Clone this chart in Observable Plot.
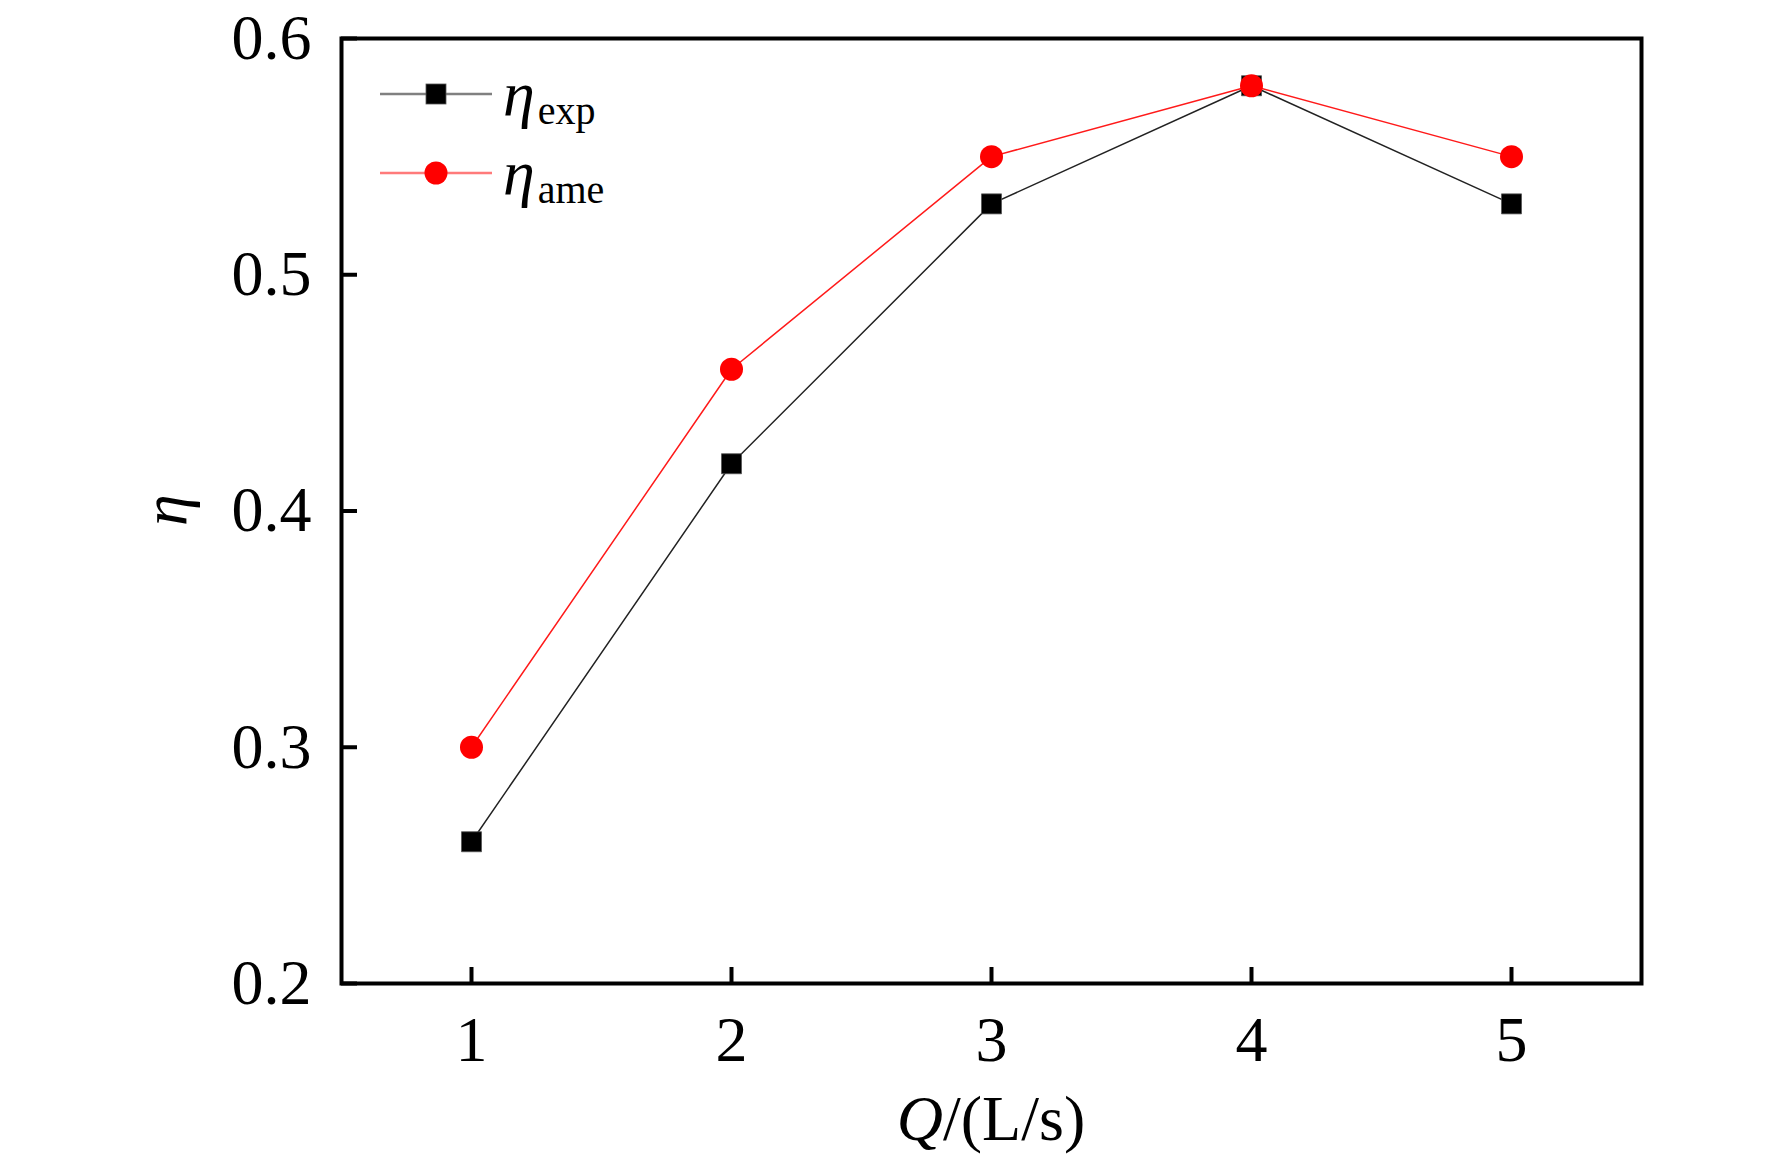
<!DOCTYPE html>
<html>
<head>
<meta charset="utf-8">
<script src="https://cdn.jsdelivr.net/npm/d3@7"></script>
<script src="https://cdn.jsdelivr.net/npm/@observablehq/plot@0.6"></script>
<style>
  html, body { margin: 0; padding: 0; background: #fff; overflow: hidden; }
  svg { display: block; }
</style>
</head>
<body>
<div id="chart"></div>
<script>
// ---- data ----
const Q = [1, 2, 3, 4, 5];
const etaExp = [0.26, 0.42, 0.53, 0.58, 0.53];
const etaAme = [0.30, 0.46, 0.55, 0.58, 0.55];
const xTicks = [1, 2, 3, 4, 5];
const yTicks = [0.2, 0.3, 0.4, 0.5, 0.6];
const seriesSymbol = ["η", "η"];
const seriesSub = ["exp", "ame"];
const xTitle = ["Q", "/(L/s)"];
const yTitle = "η";

const rows = Q.map((q, i) => ({q, exp: etaExp[i], ame: etaAme[i]}));

const FONT = "'Liberation Serif', 'Times New Roman', serif";

const chart = Plot.plot({
  width: 1772,
  height: 1157,
  marginLeft: 341,
  marginRight: 131,
  marginTop: 38,
  marginBottom: 174,
  style: {fontFamily: FONT, fontSize: "64px", background: "white", color: "black"},
  x: {domain: [0.5, 5.5]},
  y: {domain: [0.2, 0.6]},
  marks: [
    Plot.axisX(xTicks, {tickSize: 16, dy: -16, text: null, strokeWidth: 4, label: null}),
    Plot.axisX(xTicks, {tickSize: 0, tickPadding: 32, label: null, fontSize: 64, tickFormat: d => String(d)}),
    Plot.axisY(yTicks, {tickSize: 16, dx: 16, text: null, strokeWidth: 4, label: null}),
    Plot.axisY(yTicks, {tickSize: 0, tickPadding: 30, label: null, fontSize: 64, tickFormat: d => d.toFixed(1)}),
    Plot.line(rows, {x: "q", y: "exp", stroke: "#222", strokeWidth: 1.5}),
    Plot.dot(rows, {x: "q", y: "exp", symbol: "square", r: 11.3, fill: "black", stroke: "#555", strokeWidth: 0.8}),
    Plot.line(rows, {x: "q", y: "ame", stroke: "#ff1a1a", strokeWidth: 1.5}),
    Plot.dot(rows, {x: "q", y: "ame", symbol: "circle", r: 11.5, fill: "#ff0000"}),
    Plot.frame({stroke: "black", strokeWidth: 4})
  ]
});

document.getElementById("chart").appendChild(chart);

const svg = d3.select(chart);

// legend
const legend = svg.append("g").attr("font-family", FONT).attr("text-anchor", "start");
const legendStyles = [
  {line: "#808080", y: 94, marker: "square", fill: "black"},
  {line: "#ff7a7a", y: 173, marker: "circle", fill: "#ff0000"}
];
legendStyles.forEach((s, i) => {
  const g = legend.append("g");
  g.append("line").attr("x1", 380).attr("x2", 492).attr("y1", s.y).attr("y2", s.y)
    .attr("stroke", s.line).attr("stroke-width", 2.5);
  if (s.marker === "square") {
    g.append("rect").attr("x", 426).attr("y", s.y - 10).attr("width", 20).attr("height", 20)
      .attr("fill", s.fill).attr("stroke", "#555").attr("stroke-width", 0.8);
  } else {
    g.append("circle").attr("cx", 436).attr("cy", s.y).attr("r", 11.5).attr("fill", s.fill);
  }
  const t = g.append("text").attr("x", 503).attr("y", s.y + 21).attr("font-size", 64)
    .attr("fill", "black").attr("text-anchor", "start");
  t.append("tspan").attr("font-style", "italic").text(seriesSymbol[i]);
  t.append("tspan").attr("font-size", 40).attr("dy", 9).attr("dx", 3).text(seriesSub[i]);
});

// x title
const xt = svg.append("text").attr("x", 991).attr("y", 1140).attr("text-anchor", "middle")
  .attr("font-family", FONT).attr("font-size", 64).attr("fill", "black");
xt.append("tspan").attr("font-style", "italic").text(xTitle[0]);
xt.append("tspan").text(xTitle[1]);

// y title
svg.append("text").attr("transform", "translate(186,510) rotate(-90)").attr("text-anchor", "middle")
  .attr("font-family", FONT).attr("font-size", 64).attr("font-style", "italic").attr("fill", "black")
  .text(yTitle);
</script>
</body>
</html>
